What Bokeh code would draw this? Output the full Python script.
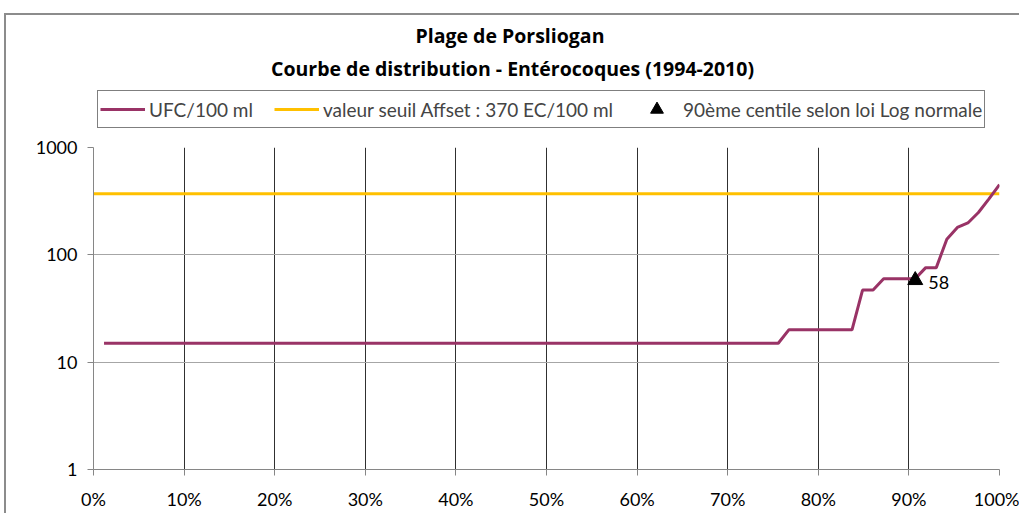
import numpy as np
from bokeh.plotting import figure
from bokeh.layouts import column
from bokeh.models import (Range1d, FixedTicker, NumeralTickFormatter, PrintfTickFormatter,
                          Legend, LegendItem)
from bokeh.embed import file_html
from bokeh.resources import INLINE
from bokeh.core.properties import value

# ---------------- data ----------------
title_main = "Plage de  Porsliogan"
title_sub = "Courbe de distribution - Entérocoques (1994-2010)"
series_names = ["UFC/100 ml", "valeur seuil Affset : 370 EC/100 ml",
                "90ème centile selon loi Log normale"]

# distinct measured levels (UFC/100 ml), sorted, and number of samples at each level
levels = [15, 20, 47, 60, 76, 140, 180, 198, 248, 332, 451]
counts = [65, 7, 2, 4, 2, 1, 1, 1, 1, 1, 1]

threshold = 370          # valeur seuil
p90_value = 58           # 90e centile (loi log normale)
p90_position = 0.907     # cumulative frequency where it is plotted
p90_label = "58"

x_ticks = [0.0, 0.1, 0.2, 0.3, 0.4, 0.5, 0.6, 0.7, 0.8, 0.9, 1.0]
x_grid = [0.1, 0.2, 0.3, 0.4, 0.5, 0.6, 0.7, 0.8, 0.9, 1.0]
y_ticks = [1, 10, 100, 1000]

values = np.repeat(levels, counts)
n = len(values)
freq = np.arange(1, n + 1) / n

FONT = "Lato"
TFONT = "Open Sans"
PURPLE = "#993366"
YELLOW = "#FFC000"

OX, OY = 6, 15          # page position of the chart content (inside the border)
W = 1013
HEAD_H = 120
MBL, MBR = 87, 20
FL, FR = OX + MBL, OX + W - MBR   # page x of the plot frame edges

# ---------------- header (titles + legend) ----------------
head = figure(width=W, height=HEAD_H, x_range=Range1d(FL, FR),
              y_range=Range1d(OY + HEAD_H, OY), output_backend="svg",
              toolbar_location=None, min_border_left=MBL, min_border_right=MBR,
              min_border_top=0, min_border_bottom=0)
head.axis.visible = False
head.grid.visible = False
head.outline_line_color = None

head.text(x=[512], y=[35], text=[title_main], text_align="center", text_baseline="middle",
          text_font=value(TFONT), text_font_style="bold", text_font_size="19.5px",
          text_color="black")
head.text(x=[512], y=[68], text=[title_sub], text_align="center", text_baseline="middle",
          text_font=value(TFONT), text_font_style="bold", text_font_size="19.5px",
          text_color="black")

# legend sample renderers (kept outside the visible header area)
d_ufc = head.line([-2000, -1990], [-2000, -2000], line_color=PURPLE, line_width=3)
d_thr = head.line([-2000, -1990], [-2000, -2000], line_color=YELLOW, line_width=3)
d_p90 = head.scatter([-2000], [-2000], marker="triangle", size=14, fill_color="black",
                     line_color="black")

legend = Legend(items=[LegendItem(label=series_names[0], renderers=[d_ufc]),
                       LegendItem(label=series_names[1], renderers=[d_thr]),
                       LegendItem(label=series_names[2], renderers=[d_p90])],
                location=(4, 7), orientation="horizontal",
                border_line_color="black", border_line_width=1,
                label_text_font=FONT, label_text_font_size="19px",
                glyph_width=45, glyph_height=32, spacing=21, padding=2,
                label_standoff=4, margin=0, background_fill_alpha=1)
head.add_layout(legend)

# ---------------- main chart ----------------
p = figure(width=W, height=378, x_range=Range1d(0, 1), y_range=Range1d(1, 1000),
           y_axis_type="log", output_backend="svg", toolbar_location=None,
           min_border_left=MBL, min_border_right=MBR, min_border_top=12, min_border_bottom=44)
p.outline_line_color = None
p.background_fill_color = "white"

p.xaxis.ticker = FixedTicker(ticks=x_ticks)
p.xaxis.formatter = NumeralTickFormatter(format="0%")
p.yaxis.ticker = FixedTicker(ticks=y_ticks)
p.yaxis.formatter = PrintfTickFormatter(format="%d")
for ax in (p.xaxis, p.yaxis):
    ax.axis_line_color = "#868686"
    ax.axis_line_width = 1
    ax.major_tick_line_color = "#868686"
    ax.major_tick_out = 6
    ax.major_tick_in = 0
    ax.minor_tick_line_color = None
    ax.major_label_text_font = FONT
    ax.major_label_text_font_size = "18px"
    ax.major_label_text_color = "black"
p.yaxis.major_label_standoff = 10
p.xaxis.major_label_standoff = 12

p.xgrid.ticker = FixedTicker(ticks=x_grid)
p.xgrid.grid_line_color = "#303030"
p.xgrid.grid_line_width = 1
p.ygrid.ticker = FixedTicker(ticks=y_ticks)
p.ygrid.grid_line_color = "#a6a6a6"
p.ygrid.grid_line_width = 1

p.line([0, 1], [threshold, threshold], line_color=YELLOW, line_width=3)
p.line(freq, values, line_color=PURPLE, line_width=3)
p.scatter([p90_position], [p90_value], marker="triangle", size=15,
          fill_color="black", line_color="black")
p.text(x=[p90_position], y=[p90_value], text=[p90_label], x_offset=13, y_offset=2,
       text_baseline="middle", text_align="left", text_font=value(FONT),
       text_font_size="18px", text_color="black")

layout = column(head, p, spacing=0)
layout.styles = {"margin-left": "4px", "margin-top": "13px",
                 "border-top": "2px solid #8c8c8c", "border-left": "2px solid #8c8c8c"}

open("out.html", "w").write(file_html(layout, INLINE))
